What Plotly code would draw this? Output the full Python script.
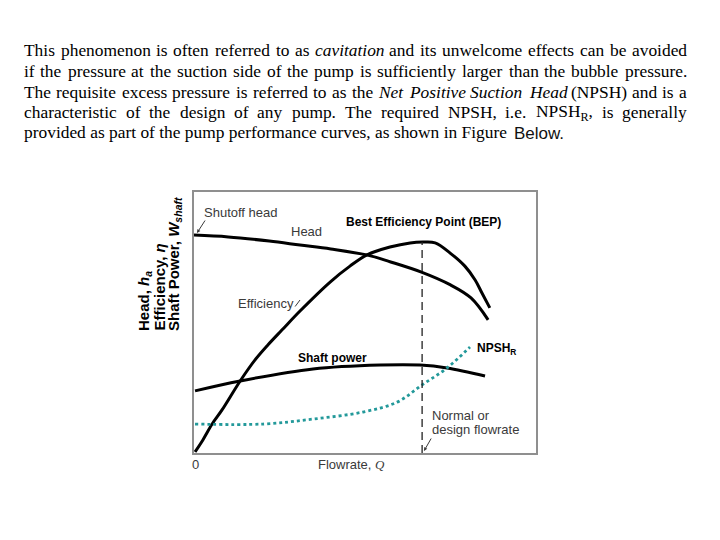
import re
import plotly.graph_objects as go

# ---------------- data (arbitrary units, Q: 0-100, y: 0-100) ----------------
head_q = [0, 10, 22, 31, 40, 50.5, 57.5, 66.5, 75, 81, 86]
head_h = [83.5, 82.8, 81.2, 79.7, 78.2, 75.9, 73.2, 69.3, 64.4, 59.4, 51.0]

eff_q = [0.3, 2.6, 5.3, 8.2, 13.5, 17.8, 21.6, 25.7, 31.0, 39.8, 45.6, 50.6,
         57.3, 63.2, 67.0, 70.5, 74.9, 79.2, 82.2, 84.2, 86.5]
eff_v = [0.4, 5.0, 11.1, 16.5, 27.6, 35.6, 41.4, 47.1, 54.4, 65.5, 71.6, 75.9,
         78.9, 80.5, 80.8, 80.5, 76.6, 71.6, 66.3, 61.3, 55.6]

pow_q = [0.3, 13.5, 34.8, 54.4, 66.1, 74.0, 85.1]
pow_v = [23.8, 27.6, 32.2, 33.7, 33.7, 32.6, 29.5]

npsh_q = [0.3, 20.2, 34.8, 49.4, 59.4, 66.7, 74.0, 80.7]
npsh_v = [11.1, 11.1, 13.0, 15.7, 19.5, 26.1, 32.6, 40.6]

design_q = 66.7
bep_eff = 80.8

paragraph_justified = [
    "This phenomenon is often referred to as <i>cavitation</i> and its unwelcome effects can be avoided",
    "if the pressure at the suction side of the pump is sufficiently larger than the bubble pressure.",
    "The requisite excess pressure is referred to as the <i>Net</i> <i>Positive</i> <i>Suction</i> <i>Head</i> (NPSH) and is a",
    "characteristic of the design of any pump. The required NPSH, i.e. NPSH<sub>R</sub>, is generally",
]
paragraph_last = "provided as part of the pump performance curves, as shown in Figure"
paragraph_tail = "Below."

# ---------------- figure ----------------
W, H = 720, 540
OFF = 8  # page body margin
def px(x):
    return (x - OFF) / W
def py(y):
    return 1 - (y - OFF) / H

# Times / Liberation Serif advance widths (1/1000 em)
TW = dict(zip("abcdefghijklmnopqrstuvwxyz",
              [444, 500, 444, 500, 444, 333, 500, 500, 278, 278, 500, 278, 778, 500, 500, 500, 500, 333, 389, 278, 500, 500, 722, 500, 500, 444]))
TW.update(dict(zip("ABCDEFGHIJKLMNOPQRSTUVWXYZ",
                   [722, 667, 667, 722, 611, 556, 722, 722, 333, 389, 722, 611, 889, 722, 722, 556, 722, 667, 556, 611, 722, 722, 944, 722, 722, 611])))
TW.update({" ": 250, ".": 250, ",": 250, "(": 333, ")": 333})

def text_width(html, size):
    total = 0.0
    for part in re.split(r"(<sub>.*?</sub>)", html):
        scale = 0.7 if part.startswith("<sub>") else 1.0
        inner = re.sub(r"<.*?>", "", part)
        total += sum(TW.get(c, 500) for c in inner) * scale
    return total * size / 1000.0

fig = go.Figure()
fig.add_trace(go.Scatter(x=head_q, y=head_h, mode="lines", line=dict(color="black", width=3, shape="spline"), hoverinfo="skip"))
fig.add_trace(go.Scatter(x=eff_q, y=eff_v, mode="lines", line=dict(color="black", width=3, shape="spline"), hoverinfo="skip"))
fig.add_trace(go.Scatter(x=pow_q, y=pow_v, mode="lines", line=dict(color="black", width=3, shape="spline"), hoverinfo="skip"))
fig.add_trace(go.Scatter(x=npsh_q, y=npsh_v, mode="lines", line=dict(color="#23999a", width=2.8, dash="dot", shape="spline"), hoverinfo="skip"))
fig.add_trace(go.Scatter(x=[design_q, design_q], y=[0, bep_eff], mode="lines", line=dict(color="#222222", width=1.3, dash="8px,5px"), hoverinfo="skip"))

SANS = "Liberation Sans, Arial, sans-serif"
SERIF = "Liberation Serif, Times New Roman, serif"
GRAY = "#3a3a3a"
PSIZE = 17.4

ann = []
# justified paragraph lines, word by word
para_y = [50, 71, 92, 112]
left, right = 22, 685
for line, yy in zip(paragraph_justified, para_y):
    words = line.split(" ")
    widths = [text_width(w, PSIZE) for w in words]
    gap = (right - left - sum(widths)) / (len(words) - 1)
    x = left
    for w, wd in zip(words, widths):
        ann.append(dict(text=w, x=px(x), y=py(yy), xref="paper", yref="paper", xanchor="left", yanchor="middle",
                        showarrow=False, font=dict(family=SERIF, size=PSIZE, color="black")))
        x += wd + gap
ann.append(dict(text=paragraph_last, x=px(left), y=py(132), xref="paper", yref="paper", xanchor="left", yanchor="middle",
                showarrow=False, font=dict(family=SERIF, size=PSIZE, color="black")))
ann.append(dict(text=paragraph_tail, x=px(512), y=py(133), xref="paper", yref="paper", xanchor="left", yanchor="middle",
                showarrow=False, font=dict(family=SANS, size=17, color="#111111")))

def lab(text, x, y, size=13, bold=False, color=GRAY, xanchor="left"):
    if bold:
        text = "<b>" + text + "</b>"
    return dict(text=text, x=px(x), y=py(y), xref="paper", yref="paper", xanchor=xanchor, yanchor="middle",
                showarrow=False, font=dict(family=SANS, size=size, color=color if not bold else "black"))

ann.append(lab("Shutoff head", 202, 212))
ann.append(lab("Head", 289, 231))
ann.append(lab("Best Efficiency Point (BEP)", 344, 222, size=12, bold=True))
ann.append(lab("Efficiency", 236, 303))
ann.append(lab("Shaft power", 296, 358, size=12, bold=True))
ann.append(lab("NPSH<sub>R</sub>", 475, 349, size=12, bold=True))
ann.append(lab("Normal or", 430, 415))
ann.append(lab("design flowrate", 430, 429))
ann.append(lab("0", 195, 464, xanchor="center"))
ann.append(dict(text="Flowrate, <i><span style='font-family:Liberation Serif'>Q</span></i>", x=px(316), y=py(464),
                xref="paper", yref="paper", xanchor="left", yanchor="middle", showarrow=False,
                font=dict(family=SANS, size=13, color=GRAY)))

# arrows (head point in paper coords, tail as pixel offset)
def arrow(hx, hy, tx, ty, head=2):
    return dict(x=px(hx), y=py(hy), ax=tx - hx, ay=ty - hy, xref="paper", yref="paper",
                text="", showarrow=True, arrowhead=head, arrowsize=0.7, arrowwidth=1, arrowcolor=GRAY)

ann.append(arrow(197, 233, 206, 219))
ann.append(arrow(300, 300, 294, 308, head=0))
ann.append(arrow(424, 451, 432, 437))

# y-axis title (three rotated lines, bottom aligned)
ytitles = ["Head, <i>h<sub>a</sub></i>", "Efficiency, <i>η</i>", "Shaft Power, <i>W<sub>shaft</sub></i>"]
for t, xx in zip(ytitles, [144, 159, 174]):
    ann.append(dict(text="<b>" + t + "</b>", x=px(xx), y=py(333), xref="paper", yref="paper",
                    xanchor="center", yanchor="bottom", textangle=-90, showarrow=False,
                    font=dict(family=SANS, size=15, color="black")))

fig.update_layout(
    width=W, height=H,
    margin=dict(l=0, r=0, t=0, b=0),
    paper_bgcolor="white", plot_bgcolor="white",
    showlegend=False,
    annotations=ann,
    xaxis=dict(domain=[px(194), px(536)], range=[0, 100], showgrid=False, zeroline=False,
               showticklabels=False, ticks="", showline=True, mirror=True, linecolor="#8f8f8f", linewidth=2),
    yaxis=dict(domain=[py(453), py(192)], range=[0, 100], showgrid=False, zeroline=False,
               showticklabels=False, ticks="", showline=True, mirror=True, linecolor="#8f8f8f", linewidth=2),
)

fig.write_html("out.html")
